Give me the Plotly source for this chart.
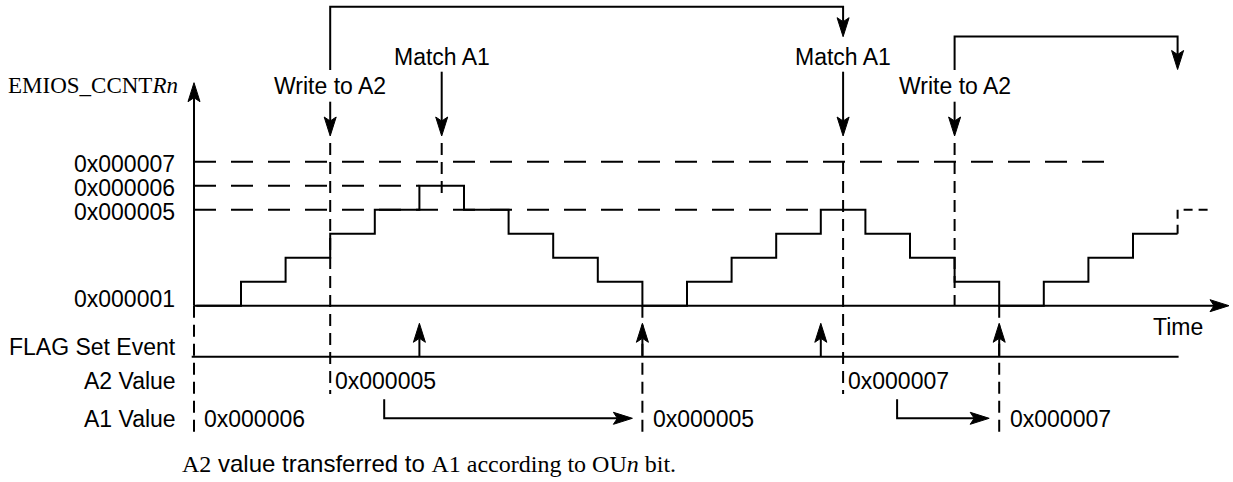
import plotly.graph_objects as go

# ---------------- data ----------------
clock_ticks = list(range(-1, 22))                      # counter clock edges, t = -1 .. 21
counter_values = [1, 2, 3, 4, 5, 6, 5, 4, 3, 2, 1,      # value held from each tick (t = -1 .. 20)
                  2, 3, 4, 5, 4, 3, 2, 1, 2, 3, 4]
future_value = 5                                        # dashed continuation after last tick
future_end = 21.8

level_values = [7, 6, 5]
level_labels = ["0x000007", "0x000006", "0x000005"]
level_ends = [19.6, 4, 13]
base_value = 1
base_label = "0x000001"

write_times = [2, 16]
match_times = [4.5, 13.5]
bracket_from = [2, 16]
bracket_to = [13.5, 21]
flag_times = [4, 9, 13, 17]

a2_times = [2, 13.5]
a2_values = ["0x000005", "0x000007"]
a1_initial = "0x000006"
a1_times = [9, 17]
a1_values = ["0x000005", "0x000007"]

# ---------------- layout helpers ----------------
W, H = 1233, 482
X0, SX = 241.0, 44.6        # pixel of t=0, pixels per clock tick
Y1, SY = 305.7, 24.0        # pixel of value 1, pixels per count


def t_px(px):
    return (px - X0) / SX


def v_px(py):
    return 1 + (Y1 - py) / SY


def dx(px):
    return px / SX


def dy(px):
    return px / SY


SANS = "Liberation Sans, Arial, sans-serif"
SERIF = "Liberation Serif, Times New Roman, serif"
FS = 23
INK = "black"
LW = 2
HL, HW, HN = 19, 6, 4       # arrow head length, half width, notch

fig = go.Figure()
shapes = []
annotations = []


def add_poly(polys, dash="solid", width=LW):
    xs, ys = [], []
    for poly in polys:
        for (x, y) in poly:
            xs.append(x)
            ys.append(y)
        xs.append(None)
        ys.append(None)
    fig.add_trace(go.Scatter(x=xs, y=ys, mode="lines",
                             line=dict(color=INK, width=width, dash=dash),
                             hoverinfo="skip", showlegend=False))


def head(tx, ty, direction):
    if direction == "down":
        pts = [(0, 0), (-HW, HL), (0, HL - HN), (HW, HL)]
    elif direction == "up":
        pts = [(0, 0), (-HW, -HL), (0, -HL + HN), (HW, -HL)]
    else:  # right
        pts = [(0, 0), (-HL, HW), (-HL + HN, 0), (-HL, -HW)]
    path = "M " + " L ".join(f"{tx + dx(ox):.5f},{ty + dy(oy):.5f}" for ox, oy in pts) + " Z"
    shapes.append(dict(type="path", path=path, xref="x", yref="y",
                       fillcolor=INK, line=dict(color=INK, width=1)))


def text(x, y, s, xanchor="center", xshift=0, yshift=0, family=SANS, size=FS):
    annotations.append(dict(x=x, y=y, xref="x", yref="y", text=s, showarrow=False,
                            xanchor=xanchor, yanchor="middle", xshift=xshift, yshift=yshift,
                            font=dict(family=family, size=size, color=INK)))


solid, dash_h, dash_v = [], [], []

# axes
AX = t_px(194)
TOP_V = v_px(82.7)
TIME_END = t_px(1229)
solid.append([(AX, base_value), (AX, TOP_V - dy(HL - HN))])
head(AX, TOP_V, "up")
solid.append([(AX, base_value), (TIME_END - dx(HL - HN), base_value)])
head(TIME_END, base_value, "right")
text(AX, v_px(85), "EMIOS_CCNT<i>Rn</i>", xanchor="right", xshift=-14, family=SERIF)
text(t_px(1178), v_px(327), "Time")

# threshold levels
for v, lab, e in zip(level_values, level_labels, level_ends):
    dash_h.append([(AX, v), (e, v)])
    text(AX, v, lab, xanchor="right", xshift=-17, yshift=-2)
text(AX, base_value, base_label, xanchor="right", xshift=-17, yshift=6.5)

# counter staircase
step_x = clock_ticks[:-1] + [clock_ticks[-1]]
step_y = counter_values + [counter_values[-1]]
fig.add_trace(go.Scatter(x=step_x, y=step_y, mode="lines", line_shape="hv",
                         line=dict(color=INK, width=LW), hoverinfo="skip", showlegend=False))
fig.add_trace(go.Scatter(x=[clock_ticks[-1], clock_ticks[-1], future_end],
                         y=[counter_values[-1], future_value, future_value],
                         mode="lines", line=dict(color=INK, width=LW, dash="9px,6px"),
                         hoverinfo="skip", showlegend=False))

# top events
TIP_V = v_px(136)
DASH_TOP = v_px(143)
A2_BOTTOM = v_px(394)
write_dash_bottom = [A2_BOTTOM, base_value]
match_dash_bottom = [v_px(197.7), A2_BOTTOM]
for t, b in zip(write_times, write_dash_bottom):
    text(t, v_px(86), "Write to A2")
    solid.append([(t, v_px(101.7)), (t, TIP_V + dy(HL - HN))])
    head(t, TIP_V, "down")
    dash_v.append([(t, DASH_TOP), (t, b)])
for t, b in zip(match_times, match_dash_bottom):
    text(t, v_px(56.7), "Match A1")
    solid.append([(t, v_px(71.7)), (t, TIP_V + dy(HL - HN))])
    head(t, TIP_V, "down")
    dash_v.append([(t, DASH_TOP), (t, b)])

bracket_top = [6.7, 36.5]
bracket_drop = [30, 33]
for f, to, top, drop in zip(bracket_from, bracket_to, bracket_top, bracket_drop):
    tip = v_px(top + drop)
    solid.append([(f, v_px(70)), (f, v_px(top)), (to, v_px(top)), (to, tip + dy(HL - HN))])
    head(to, tip, "down")

# FLAG row
FLAG_V = v_px(356.7)
FLAG_TIP = v_px(323.3)
solid.append([(t_px(191.7), FLAG_V), (t_px(1178.6), FLAG_V)])
for t in flag_times:
    solid.append([(t, FLAG_V), (t, FLAG_TIP - dy(HL - HN))])
    head(t, FLAG_TIP, "up")
text(AX, v_px(347), "FLAG Set Event", xanchor="right", xshift=-16)

# A2 / A1 rows
A2_V = v_px(380.7)
A1_V = v_px(419)
A1_BOTTOM = v_px(437)
text(AX, A2_V, "A2 Value", xanchor="right", xshift=-16)
text(AX, A1_V, "A1 Value", xanchor="right", xshift=-16)
for t, s in zip(a2_times, a2_values):
    text(t, A2_V, s, xanchor="left", xshift=2.5)
dash_v.append([(AX, base_value), (AX, A1_BOTTOM)])
text(AX, A1_V, a1_initial, xanchor="left", xshift=7.7)
for t, s in zip(a1_times, a1_values):
    dash_v.append([(t, base_value), (t, A1_BOTTOM)])
    text(t, A1_V, s, xanchor="left", xshift=8.5)

ARR_V = v_px(418.3)
for ta2, ta1 in zip(a2_times, a1_times):
    sx = ta2 + dx(54)
    tipx = ta1 - dx(10)
    solid.append([(sx, v_px(399.3)), (sx, ARR_V), (tipx - dx(HL - HN), ARR_V)])
    head(tipx, ARR_V, "right")

add_poly(solid)
add_poly(dash_h, dash="22px,15px")
add_poly(dash_v, dash="12px,7px")

# footnote
annotations.append(dict(
    x=t_px(180), y=v_px(463), xref="x", yref="y", showarrow=False,
    xanchor="left", yanchor="middle",
    text=(f'<span style="font-family:{SERIF}">A2</span> value transferred to '
          f'<span style="font-family:{SERIF}">A1 according to OU<i>n</i> bit.</span>'),
    font=dict(family=SANS, size=24, color=INK)))

fig.update_layout(
    width=W, height=H, autosize=False,
    margin=dict(l=0, r=0, t=0, b=0, pad=0),
    paper_bgcolor="white", plot_bgcolor="white",
    xaxis=dict(range=[t_px(0), t_px(W)], visible=False, fixedrange=True),
    yaxis=dict(range=[v_px(H), v_px(0)], visible=False, fixedrange=True),
    shapes=shapes, annotations=annotations,
    hovermode=False, showlegend=False,
)

fig.write_html("out.html", config={"displayModeBar": False},
               post_script="document.body.style.margin='0';document.body.style.overflow='hidden';")
